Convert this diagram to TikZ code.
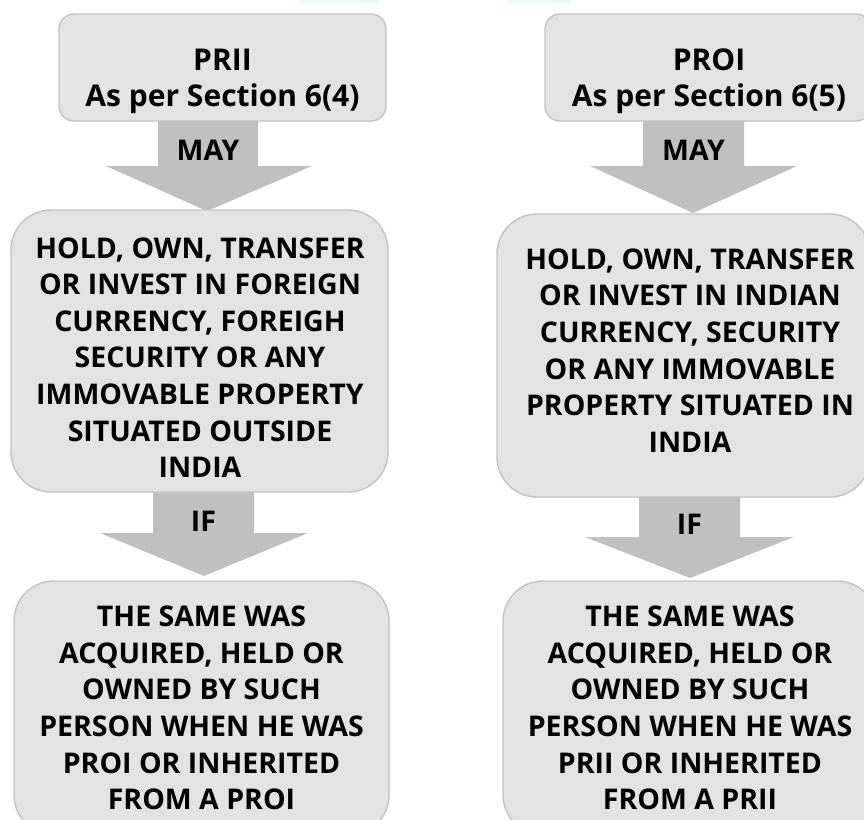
\documentclass[tikz,border=0pt]{standalone}
\usepackage{fontspec}
\setmainfont{Open Sans}
\usetikzlibrary{calc}
\definecolor{boxfill}{HTML}{E3E3E3}
\definecolor{boxline}{HTML}{C3C3C3}
\definecolor{arrfill}{HTML}{C0C0C0}
\definecolor{cyanbar}{HTML}{E6FCFC}
\begin{document}
\begin{tikzpicture}[x=1pt,y=-1pt,
  box/.style={draw=boxline,line width=1.4pt,fill=boxfill,inner sep=0pt},
  txt/.style={font=\bfseries\fontsize{28.5}{36.6}\selectfont,align=center,inner sep=0pt,text=black},
  toptxt/.style={font=\bfseries\fontsize{30}{36}\selectfont,align=center,inner sep=0pt,text=black},
  arr/.style={fill=arrfill}]
\useasboundingbox (0,0) rectangle (864,819);
\clip (0,0) rectangle (864,819);
\fill[cyanbar] (300,0) rectangle (378,3);
\fill[cyanbar] (507,0) rectangle (570,3);
% block arrows
\coordinate (LA1) at (208,121);
\coordinate (LA2) at (203.5,492);
\coordinate (RA1) at (693.5,121);
\coordinate (RA2) at (689.5,497);
\fill[arr] ($(LA1)+(-50,0)$) -- ($(LA1)+(50,0)$) -- ($(LA1)+(50,45)$) -- ($(LA1)+(104,45)$) -- ($(LA1)+(-1,90)$) -- ($(LA1)+(-102,45)$) -- ($(LA1)+(-50,45)$) -- cycle;
\fill[arr] ($(LA2)+(-50.5,0)$) -- ($(LA2)+(50.5,0)$) -- ($(LA2)+(50.5,41)$) -- ($(LA2)+(104.5,41)$) -- ($(LA2)+(0.5,84)$) -- ($(LA2)+(-103.5,41)$) -- ($(LA2)+(-50.5,41)$) -- cycle;
\fill[arr] ($(RA1)+(-50.5,0)$) -- ($(RA1)+(50.5,0)$) -- ($(RA1)+(50.5,45)$) -- ($(RA1)+(103.5,45)$) -- ($(RA1)+(-0.5,92)$) -- ($(RA1)+(-103.5,45)$) -- ($(RA1)+(-50.5,45)$) -- cycle;
\fill[arr] ($(RA2)+(-50.5,0)$) -- ($(RA2)+(50.5,0)$) -- ($(RA2)+(50.5,40)$) -- ($(RA2)+(104.5,40)$) -- ($(RA2)+(0.5,81)$) -- ($(RA2)+(-104.5,40)$) -- ($(RA2)+(-50.5,40)$) -- cycle;
% boxes
\node[box,rounded corners=15pt,minimum width=327pt,minimum height=107pt] (L1) at (222.5,67.5) {};
\node[box,rounded corners=40pt,minimum width=377pt,minimum height=282pt] (L2) at (199.5,351) {};
\node[box,rounded corners=40pt,minimum width=375pt,minimum height=254pt] (L3) at (201.5,708) {};
\node[box,rounded corners=15pt,minimum width=326pt,minimum height=107pt] (R1) at (708,67.5) {};
\node[box,rounded corners=40pt,minimum width=373pt,minimum height=283pt] (R2) at (683.5,355.5) {};
\node[box,rounded corners=40pt,minimum width=374pt,minimum height=254pt] (R3) at (690,708) {};
% texts
\node[toptxt] (L1t) at (222.5,81) {PRII\\As per Section 6(4)};
\node[txt] (L2t) at (200,357.5) {HOLD, OWN, TRANSFER\\OR INVEST IN FOREIGN\\CURRENCY, FOREIGH\\SECURITY OR ANY\\IMMOVABLE PROPERTY\\SITUATED OUTSIDE\\INDIA};
\node[txt] (L3t) at (201.5,708) {THE SAME WAS\\ACQUIRED, HELD OR\\OWNED BY SUCH\\PERSON WHEN HE WAS\\PROI OR INHERITED\\FROM A PROI};
\node[toptxt] (R1t) at (709,81) {PROI\\As per Section 6(5)};
\node[txt] (R2t) at (690,350.5) {HOLD, OWN, TRANSFER\\OR INVEST IN INDIAN\\CURRENCY, SECURITY\\OR ANY IMMOVABLE\\PROPERTY SITUATED IN\\INDIA};
\node[txt] (R3t) at (690,708) {THE SAME WAS\\ACQUIRED, HELD OR\\OWNED BY SUCH\\PERSON WHEN HE WAS\\PRII OR INHERITED\\FROM A PRII};
% arrow labels
\node[txt] (LA1t) at (208,150.5) {MAY};
\node[txt] (LA2t) at (203.5,521) {IF};
\node[txt] (RA1t) at (693.5,150.5) {MAY};
\node[txt] (RA2t) at (689.5,524) {IF};
\end{tikzpicture}
\end{document}
